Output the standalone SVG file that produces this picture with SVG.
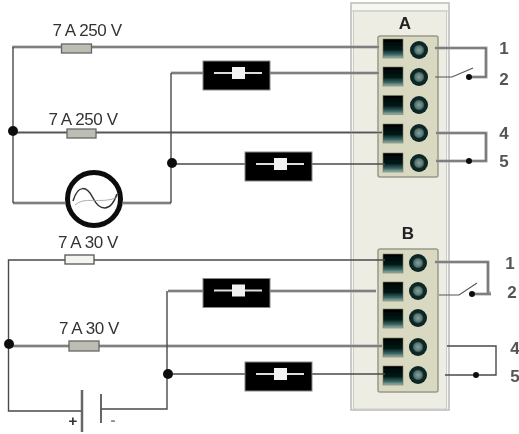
<svg xmlns="http://www.w3.org/2000/svg" xmlns:xlink="http://www.w3.org/1999/xlink" width="519" height="434" viewBox="0 0 519 434">
<style>
text{font-family:"Liberation Sans",Arial,sans-serif;fill:#333;text-anchor:middle}
.lb{font-size:17px;letter-spacing:-.4px;fill:#333}
.num{font-size:17px;font-weight:700;fill:#555}
.ttl{font-size:17px;font-weight:700;fill:#222}
.w{fill:none;stroke:#4a4a4a;stroke-width:1.4}
.g{fill:none;stroke:#aaa;stroke-width:3.2}
.gi{fill:none;stroke:#555;stroke-width:1.1}
.fuse{fill:#bdbdb4;stroke:#666;stroke-width:1.3}
.fw{fill:#f4f4ee;stroke:#555;stroke-width:1.3}
.dot{fill:#111}
.box{fill:#000;stroke:#888;stroke-width:1}
.sw{fill:#f2f2f2}
.tb{fill:#d8d9c0;stroke:#99998a;stroke-width:1.5}
</style>
<defs>
<filter id="soft" x="-2%" y="-2%" width="104%" height="104%"><feGaussianBlur stdDeviation="0.75"/></filter>
<linearGradient id="sqfill" x1="0" y1="0" x2="0" y2="1"><stop offset="0" stop-color="#000"/><stop offset=".55" stop-color="#031a18"/><stop offset=".82" stop-color="#3c6a66"/><stop offset="1" stop-color="#9fb5ae"/></linearGradient>
<radialGradient id="scfill"><stop offset="0" stop-color="#8ba09c"/><stop offset=".45" stop-color="#55736f"/><stop offset=".62" stop-color="#0e2a2a"/><stop offset="1" stop-color="#0a2020"/></radialGradient>
<g id="relay"><rect class="box" x="0" y="0" width="67" height="29"/><rect x="11" y="11" width="48" height="2" fill="#ddd"/><rect class="sw" x="29" y="6" width="13" height="12"/></g>
<rect id="sq" x="0" y="0" width="20" height="19" fill="url(#sqfill)" stroke="#7a7a6a" stroke-width=".6"/>
<circle id="sc" r="9" fill="url(#scfill)"/>
</defs>
<g filter="url(#soft)">
<g id="panel">
<rect x="351" y="3" width="98" height="407" fill="#f7f7f2" stroke="#bbb" stroke-width="1.5"/>
<rect x="353.500" y="11" width="93" height="398" fill="#edede3" stroke="#ccc" stroke-width="1"/>
<line x1="351" y1="11" x2="449" y2="11" stroke="#ccc"/>
</g>
<g id="terminal-a">
<rect class="tb" x="378" y="36" width="60" height="141" rx="2"/>
<use xlink:href="#sq" x="383" y="39"/><use xlink:href="#sq" x="383" y="67"/><use xlink:href="#sq" x="383" y="95.500"/><use xlink:href="#sq" x="383" y="124"/><use xlink:href="#sq" x="383" y="153"/>
<use xlink:href="#sc" x="419" y="50"/><use xlink:href="#sc" x="419" y="77"/><use xlink:href="#sc" x="419" y="105"/><use xlink:href="#sc" x="419" y="133"/><use xlink:href="#sc" x="419" y="163"/>
<text class="ttl" x="405" y="29">A</text>
</g>
<g id="terminal-b">
<rect class="tb" x="378" y="249" width="60" height="143" rx="2"/>
<use xlink:href="#sq" x="383" y="254"/><use xlink:href="#sq" x="383" y="282"/><use xlink:href="#sq" x="383" y="309"/><use xlink:href="#sq" x="383" y="338"/><use xlink:href="#sq" x="383" y="366"/>
<use xlink:href="#sc" x="418" y="263"/><use xlink:href="#sc" x="418" y="291"/><use xlink:href="#sc" x="418" y="318"/><use xlink:href="#sc" x="418" y="347"/><use xlink:href="#sc" x="418" y="375"/>
<text class="ttl" x="408" y="239">B</text>
</g>
<g id="connectors">
<path class="g" d="M12 47H379M171 73H379M13 132.500H382M13 203H65M123 203H171"/>
<path class="g" d="M168 291H376M9 346H382"/>
<path class="gi" d="M13 47H379M171 73H379M13 132.500H382M13 203H65M123 203H171"/>
<path class="gi" d="M168 291H376M9 346H382"/>
<path class="w" d="M13 47V203M171 73V203M172 164H385"/>
<path class="w" d="M385 260H8.500V411H82M101 409H167V291M168 374H385"/>
<path class="g" d="M435 48H486V77H469"/><path class="gi" d="M435 48H486V77H469M435 77H452L473 68"/>
<path class="g" d="M436 133H486V161H436"/><path class="gi" d="M436 133H486V161H436"/>
<path class="g" d="M435 262H488V293H491M491 294H472"/><path class="gi" d="M435 262H488V293M491 294H472M439 295H459L477 283"/>
<path class="w" d="M447 346H496V375H445"/>
</g>
<g id="dots">
<circle class="dot" cx="13" cy="131" r="5"/><circle class="dot" cx="172" cy="163" r="5"/>
<circle class="dot" cx="9" cy="344" r="5"/><circle class="dot" cx="168" cy="374" r="5"/>
<circle class="dot" cx="469" cy="77" r="3"/><circle class="dot" cx="469" cy="161" r="3"/>
<circle class="dot" cx="472" cy="294" r="3"/><circle class="dot" cx="476" cy="375" r="3"/>
</g>
<g id="fuse-a1"><rect class="fuse" x="61.500" y="44" width="30" height="9"/><text class="lb" x="87" y="36">7 A 250 V</text></g>
<g id="fuse-a2"><rect class="fuse" x="67" y="129" width="29" height="9"/><text class="lb" x="83" y="124.500">7 A 250 V</text></g>
<g id="fuse-b1"><rect class="fw" x="65" y="255" width="29" height="9"/><text class="lb" x="88" y="247.500">7 A 30 V</text></g>
<g id="fuse-b2"><rect class="fuse" x="69" y="341" width="30" height="10"/><text class="lb" x="89" y="334">7 A 30 V</text></g>
<g id="relay-a1"><use xlink:href="#relay" x="203" y="61"/></g>
<g id="relay-a2"><use xlink:href="#relay" x="245" y="152"/></g>
<g id="relay-b1"><use xlink:href="#relay" x="203" y="278.500"/></g>
<g id="relay-b2"><use xlink:href="#relay" x="245" y="362"/></g>
<g id="source">
<circle cx="94" cy="199" r="26.500" fill="#fff" stroke="#111" stroke-width="5"/>
<path d="M73 201C78 184 87 186 93 198S110 214 117 194" fill="none" stroke="#333" stroke-width="1.5"/>
<path d="M75 205C84 196 100 204 116 198" fill="none" stroke="#999" stroke-width=".8"/>
</g>
<g id="battery">
<line x1="82" y1="390" x2="82" y2="432" stroke="#666" stroke-width="2.500"/>
<line x1="101" y1="394" x2="101" y2="423" stroke="#555" stroke-width="1.800"/>
<text x="73" y="426" font-size="15" style="font-weight:700">+</text>
<text x="113" y="425" font-size="15" style="fill:#888;font-weight:700">-</text>
</g>
<g id="labels">
<text class="num" x="504" y="53.500">1</text><text class="num" x="504" y="85">2</text><text class="num" x="504" y="139">4</text><text class="num" x="504" y="167">5</text>
<text class="num" x="510" y="269">1</text><text class="num" x="512" y="298">2</text><text class="num" x="515" y="354">4</text><text class="num" x="515" y="382">5</text>
</g>
</g>
</svg>
